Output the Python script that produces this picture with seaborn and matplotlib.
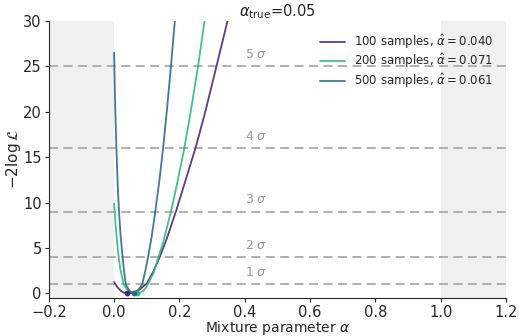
import matplotlib
matplotlib.use("Agg")
import matplotlib.pyplot as plt
import seaborn as sns
import pandas as pd

# -2 log L profiles in the mixture parameter for three sample sizes
alpha_100 = [0.00, 0.01, 0.02, 0.03, 0.04, 0.05, 0.06, 0.07, 0.08, 0.10, 0.12,
             0.14, 0.16, 0.19, 0.22, 0.25, 0.28, 0.31, 0.35, 0.37]
nll_100 = [1.25, 0.70, 0.31, 0.08, 0.00, 0.03, 0.13, 0.30, 0.50, 1.10, 2.40,
           4.05, 5.90, 9.10, 12.60, 16.10, 20.10, 24.50, 30.40, 33.50]

alpha_200 = [0.000, 0.005, 0.010, 0.015, 0.020, 0.030, 0.040, 0.050, 0.060, 0.071,
             0.080, 0.090, 0.100, 0.120, 0.136, 0.150, 0.174, 0.190, 0.215, 0.235,
             0.257, 0.277, 0.290]
nll_200 = [9.90, 7.40, 5.30, 3.70, 2.50, 0.95, 0.45, 0.18, 0.04, 0.00,
           0.08, 0.33, 0.78, 2.20, 4.00, 5.60, 9.00, 11.60, 16.00, 20.10,
           25.00, 30.00, 33.00]

alpha_500 = [0.000, 0.003, 0.007, 0.011, 0.015, 0.020, 0.026, 0.031, 0.036, 0.045,
             0.053, 0.061, 0.070, 0.080, 0.086, 0.095, 0.104, 0.115, 0.126, 0.138,
             0.150, 0.162, 0.174, 0.186, 0.195]
nll_500 = [26.50, 21.00, 16.00, 12.00, 9.00, 6.30, 4.00, 2.30, 1.00, 0.40,
           0.10, 0.00, 0.15, 0.68, 1.00, 2.40, 4.00, 6.25, 9.00, 12.25,
           16.00, 20.30, 25.00, 30.00, 33.50]

sample_sizes = [100, 200, 500]
alpha_hat = [0.040, 0.071, 0.061]
alpha_true = 0.05
sigma_levels = [1, 2, 3, 4, 5]

series = {100: (alpha_100, nll_100), 200: (alpha_200, nll_200), 500: (alpha_500, nll_500)}
colors = ["#482878", "#35b779", "#31688e"]

sns.set_style("ticks")
plt.rcParams["font.family"] = ["DejaVu Sans"]

fig = plt.figure(figsize=(5.19, 3.36), dpi=100)
ax = fig.add_axes([0.094, 0.113, 0.881, 0.825])

# unphysical regions of the mixture fraction
ax.axvspan(-0.2, 0.0, color="#f0f0f0", lw=0, zorder=0)
ax.axvspan(1.0, 1.2, color="#f0f0f0", lw=0, zorder=0)

# n-sigma reference levels
for s in sigma_levels:
    ax.axhline(s ** 2, color="#aaaaaa", ls=(0, (5, 3)), lw=1.3, zorder=1)
    ax.text(0.4, s ** 2 + 0.6, f"{s} $\\sigma$", color="#999999", fontsize=9,
            ha="left", va="bottom")

for n, ahat, c in zip(sample_sizes, alpha_hat, colors):
    a, v = series[n]
    df = pd.DataFrame({"alpha": a, "nll": v})
    sns.lineplot(data=df, x="alpha", y="nll", sort=False, color=c, lw=1.3,
                 alpha=0.9, ax=ax, zorder=3,
                 label=f"{n} samples, $\\hat{{\\alpha}}={ahat:.3f}$")
    ax.scatter([ahat], [0.0], s=10, color=c, zorder=4)

ax.set_xlim(-0.2, 1.2)
ax.set_ylim(-0.5, 30)
ax.set_xticks([-0.2, 0.0, 0.2, 0.4, 0.6, 0.8, 1.0, 1.2])
ax.set_yticks([0, 5, 10, 15, 20, 25, 30])
ax.tick_params(labelsize=10.5, length=3, pad=2)
ax.set_xlabel("Mixture parameter $\\alpha$", fontsize=10, labelpad=-1)
ax.set_ylabel("$-2\\log\\mathcal{L}$", fontsize=11, labelpad=0)
ax.set_title(f"$\\alpha_{{\\rm true}}$={alpha_true}", fontsize=10.5, pad=3)
sns.despine(ax=ax)

ax.legend(loc="upper right", frameon=False, fontsize=8.5, handlelength=2.1,
          handletextpad=0.75, borderaxespad=0.3, labelspacing=0.05,
          bbox_to_anchor=(0.99, 0.99))

fig.savefig("out.png", dpi=100)
